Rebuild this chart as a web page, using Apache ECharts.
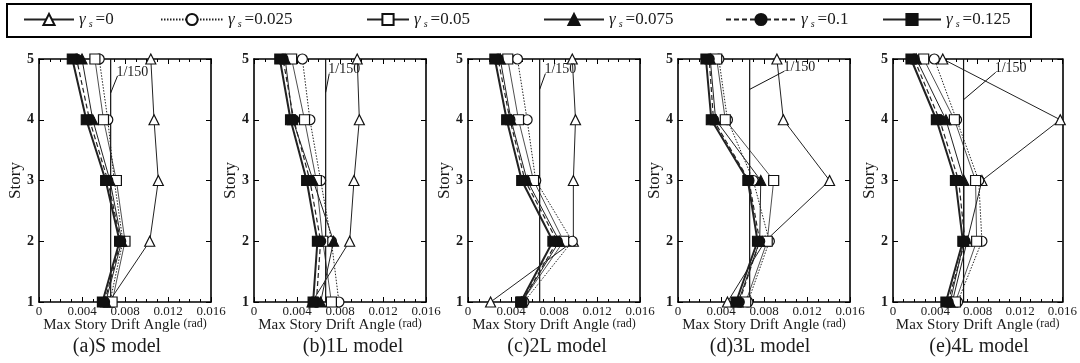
<!DOCTYPE html>
<html><head><meta charset="utf-8">
<script src="https://cdn.jsdelivr.net/npm/echarts@6/dist/echarts.min.js"></script>
<style>html,body{margin:0;padding:0;background:#fff}#c{width:1080px;height:363px}</style>
</head><body><div id="c"></div>
<script>
// ---- data ----
const stories = [1, 2, 3, 4, 5];
const seriesNames = ['γs=0', 'γs=0.025', 'γs=0.05', 'γs=0.075', 'γs=0.1', 'γs=0.125'];
const panelTitles = ['(a)S model', '(b)1L model', '(c)2L model', '(d)3L model', '(e)4L model'];
const xTickValues = [0, 0.004, 0.008, 0.012, 0.016];
const driftLimit = 1 / 150;
const limitLabel = '1/150';
// rows: γs=0, 0.025, 0.05, 0.075, 0.1, 0.125 ; columns: story 1..5
const driftS = [
  [0.0065, 0.0103, 0.0111, 0.0107, 0.0104],
  [0.0066, 0.0078, 0.0070, 0.0064, 0.0056],
  [0.0068, 0.0080, 0.0072, 0.0060, 0.0052],
  [0.0062, 0.0077, 0.0066, 0.0050, 0.0040],
  [0.0061, 0.0076, 0.0064, 0.0047, 0.0035],
  [0.0059, 0.0075, 0.0062, 0.0044, 0.0031]
];
const drift1L = [
  [0.0054, 0.0089, 0.0093, 0.0098, 0.0096],
  [0.0079, 0.0072, 0.0062, 0.0052, 0.0045],
  [0.0072, 0.0064, 0.0058, 0.0047, 0.0035],
  [0.0062, 0.0074, 0.0055, 0.0036, 0.0029],
  [0.0058, 0.0062, 0.0052, 0.0037, 0.0027],
  [0.0055, 0.0059, 0.0049, 0.0034, 0.0024]
];
const drift2L = [
  [0.0021, 0.0098, 0.0098, 0.0100, 0.0097],
  [0.0052, 0.0097, 0.0063, 0.0055, 0.0046],
  [0.0050, 0.0089, 0.0061, 0.0047, 0.0037],
  [0.0050, 0.0085, 0.0055, 0.0040, 0.0030],
  [0.0050, 0.0083, 0.0053, 0.0039, 0.0028],
  [0.0049, 0.0079, 0.0050, 0.0036, 0.0025]
];
const drift3L = [
  [0.0046, 0.0081, 0.0141, 0.0098, 0.0092],
  [0.0065, 0.0085, 0.0070, 0.0046, 0.0038],
  [0.0063, 0.0083, 0.0089, 0.0044, 0.0036],
  [0.0056, 0.0076, 0.0077, 0.0035, 0.0030],
  [0.0057, 0.0076, 0.0066, 0.0033, 0.0029],
  [0.0054, 0.0074, 0.0065, 0.0031, 0.0026]
];
const drift4L = [
  [0.0056, 0.0070, 0.0084, 0.0158, 0.0047],
  [0.0061, 0.0084, 0.0081, 0.0060, 0.0039],
  [0.0059, 0.0079, 0.0078, 0.0058, 0.0029],
  [0.0054, 0.0067, 0.0067, 0.0050, 0.0022],
  [0.0052, 0.0068, 0.0062, 0.0044, 0.0020],
  [0.0050, 0.0066, 0.0059, 0.0041, 0.0017]
];
const panels = [driftS, drift1L, drift2L, drift3L, drift4L];
// "1/150" annotation leader: [drift, story] of label anchor and of the point on the limit line
const leaderFrom = [[0.0073, 4.72], [0.0070, 4.76], [0.0072, 4.76], [0.0099, 4.8], [0.0097, 4.78]];
const leaderTo = [[driftLimit, 4.44], [driftLimit, 4.45], [driftLimit, 4.5], [driftLimit, 4.5], [driftLimit, 4.33]];

// ---- layout / style ----
const FONT = '"Liberation Serif", "Times New Roman", serif';
const gridLeft = [39, 254, 468, 678, 893];
const titleCenter = [112, 348, 552, 755, 974];
const gridTop = 59, gridW = 172, gridH = 243;
const INK = '#1a1a1a';
const seriesStyle = [
  { symbol: 'triangle', filled: false, type: 'solid', width: 1, size: 10 },
  { symbol: 'circle', filled: false, type: [1.5, 1.5], width: 1, size: 10 },
  { symbol: 'rect', filled: false, type: 'solid', width: 0.8, size: 10 },
  { symbol: 'triangle', filled: true, type: 'solid', width: 1, size: 10 },
  { symbol: 'circle', filled: true, type: [5, 3], width: 1.2, size: 10 },
  { symbol: 'rect', filled: true, type: 'solid', width: 2, size: 10 }
];
const legendLeft = [23, 160, 366, 543, 725, 882];
const legendIconW = [50, 62, 42, 60, 70, 58];

const chart = echarts.init(document.getElementById('c'), null, { renderer: 'canvas' });

const grids = [], xAxes = [], yAxes = [], series = [], titles = [];
panels.forEach((panel, p) => {
  grids.push({ left: gridLeft[p], top: gridTop, width: gridW, height: gridH });
  xAxes.push({
    gridIndex: p, type: 'value', position: 'bottom', min: 0, max: 0.016, interval: 0.004,
    axisLine: { show: true, onZero: false, lineStyle: { color: '#000', width: 1.6 } },
    axisTick: { show: true, inside: true, length: 5, lineStyle: { color: '#000' } },
    minorTick: { show: true, splitNumber: 4, length: 3, lineStyle: { color: '#000' } },
    splitLine: { show: false },
    axisLabel: {
      fontFamily: FONT, fontSize: 13, color: INK, margin: 3,
      customValues: xTickValues,
      formatter: v => (v === 0 ? '0' : v.toFixed(3))
    },
    name: '{a|Max Story Drift Angle} {b|(rad)}', nameLocation: 'middle', nameGap: 16,
    nameMoveOverlap: false,
    nameTextStyle: { rich: {
      a: { fontFamily: FONT, fontSize: 15, color: INK },
      b: { fontFamily: FONT, fontSize: 12, color: INK, padding: [0, 0, 3, 0] }
    } }
  });
  xAxes.push({
    gridIndex: p, type: 'value', position: 'top', min: 0, max: 0.016, interval: 0.004,
    axisLine: { show: true, onZero: false, lineStyle: { color: '#000', width: 1.6 } },
    axisTick: { show: true, inside: true, length: 5, lineStyle: { color: '#000' } },
    minorTick: { show: true, splitNumber: 4, length: 3, lineStyle: { color: '#000' } },
    splitLine: { show: false }, axisLabel: { show: false }
  });
  yAxes.push({
    gridIndex: p, type: 'value', position: 'left', min: 1, max: 5, interval: 1,
    axisLine: { show: true, onZero: false, lineStyle: { color: '#000', width: 1.6 } },
    axisTick: { show: true, inside: true, length: 5, lineStyle: { color: '#000' } },
    splitLine: { show: false },
    axisLabel: { fontFamily: FONT, fontSize: 14, color: INK, margin: 5, fontWeight: 'bold' },
    name: 'Story', nameLocation: 'middle', nameGap: 15, nameMoveOverlap: false,
    nameTextStyle: { fontFamily: FONT, fontSize: 17, color: INK }
  });
  yAxes.push({
    gridIndex: p, type: 'value', position: 'right', min: 1, max: 5, interval: 1,
    axisLine: { show: true, onZero: false, lineStyle: { color: '#000', width: 1.6 } },
    axisTick: { show: true, inside: true, length: 5, lineStyle: { color: '#000' } },
    splitLine: { show: false }, axisLabel: { show: false }
  });
  const xi = p * 2, yi = p * 2;
  series.push({
    type: 'line', name: 'limit' + p, xAxisIndex: xi, yAxisIndex: yi,
    data: [[driftLimit, 1], [driftLimit, 5]], symbol: 'none', silent: true, z: 1,
    lineStyle: { color: '#111', width: 1.2, type: 'solid' },
    markLine: {
      symbol: 'none', silent: true, animation: false,
      lineStyle: { color: '#111', width: 1, type: 'solid' }, label: { show: false },
      data: [[{ coord: leaderFrom[p] }, { coord: leaderTo[p] }]]
    },
    markPoint: {
      symbol: 'circle', symbolSize: 0, silent: true, animation: false,
      label: { show: true, position: 'right', distance: 0, formatter: limitLabel,
        fontFamily: FONT, fontSize: 14, color: INK, offset: [-1, -4] },
      data: [{ coord: leaderFrom[p] }]
    }
  });
  panel.forEach((vals, s) => {
    const st = seriesStyle[s];
    series.push({
      type: 'line', name: seriesNames[s], xAxisIndex: xi, yAxisIndex: yi,
      data: stories.map((y, k) => [vals[k], y]),
      symbol: st.symbol, symbolSize: st.size, showSymbol: true, z: 2 + s,
      lineStyle: { color: '#222', width: st.width, type: st.type },
      itemStyle: { color: st.filled ? '#111' : '#fff', borderColor: '#111', borderWidth: 1.2 },
      animation: false
    });
  });
  titles.push({
    text: panelTitles[p], left: titleCenter[p], top: 332, textAlign: 'center',
    textStyle: { fontFamily: FONT, fontSize: 20, fontWeight: 'normal', color: INK }
  });
});

const legends = seriesNames.map((n, i) => ({
  data: [n], left: legendLeft[i], top: 11, padding: 0,
  itemWidth: legendIconW[i], itemHeight: 14, itemGap: 0,
  selectedMode: false,
  formatter: name => '{g|γ}{s|s}{t|=' + name.split('=')[1] + '}',
  textStyle: {
    fontFamily: FONT, fontSize: 17, color: INK,
    rich: {
      g: { fontFamily: FONT, fontSize: 17, fontStyle: 'italic', color: INK, padding: [0, 2, 0, 0] },
      s: { fontFamily: FONT, fontSize: 10, fontStyle: 'italic', color: INK, padding: [10, 3, 0, 1] },
      t: { fontFamily: FONT, fontSize: 17, color: INK }
    }
  }
}));

chart.setOption({
  backgroundColor: '#fff',
  animation: false,
  title: titles,
  legend: legends,
  grid: grids,
  xAxis: xAxes,
  yAxis: yAxes,
  series: series,
  graphic: [{
    type: 'rect', shape: { x: 7, y: 4, width: 1024, height: 33 },
    style: { fill: 'none', stroke: '#000', lineWidth: 2 }, silent: true
  }]
});
</script></body></html>
